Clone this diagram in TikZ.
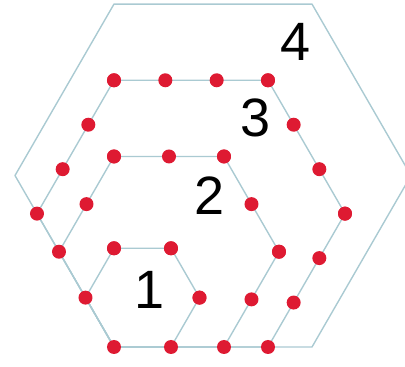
\documentclass[tikz,border=0pt]{standalone}
\usepackage{fontspec}
\setmainfont{Liberation Sans}
\usetikzlibrary{calc}
\definecolor{edgeblue}{RGB}{170,202,210}
\definecolor{dotred}{RGB}{222,26,50}

\begin{document}
\begin{tikzpicture}[x=1pt,y=1pt,
  hexline/.style={draw=edgeblue,line width=1.4pt,line join=round},
  vertexdot/.style={fill=dotred},
  numlabel/.style={font=\fontsize{54}{54}\selectfont,inner sep=0pt}]
\useasboundingbox (-114,-20) rectangle (291,347);
\clip (-114,-20) rectangle (291,347);
% hexagons, all sharing the lower left corner
\foreach \s in {57,110,154,198}
  \draw[hexline] (0,0) -- (\s,0) -- (1.5*\s,0.866*\s) -- (\s,1.732*\s) -- (0,1.732*\s) -- (-0.5*\s,0.866*\s) -- cycle;
% dots on the three inner hexagons
\fill[vertexdot] (0,0) circle (7);
\foreach \s/\n in {57/1,110/2,154/3} {
  \foreach \k in {0,...,\n} {
    \fill[vertexdot] ({\k/\n*\s},{1.732*\s}) circle (7);
    \fill[vertexdot] ({\s+0.5*\k/\n*\s},{1.732*\s-0.866*\k/\n*\s}) circle (7);
    \fill[vertexdot] ({1.5*\s-0.5*\k/\n*\s},{0.866*\s-0.866*\k/\n*\s}) circle (7);
    \fill[vertexdot] ({-0.5*\s+0.5*\k/\n*\s},{0.866*\s+0.866*\k/\n*\s}) circle (7);
  }
}
% numbers
\node[numlabel] (lab1) at (36,57) {1};
\node[numlabel] (lab2) at (96,151) {2};
\node[numlabel] (lab3) at (142,229) {3};
\node[numlabel] (lab4) at (182,305) {4};
\end{tikzpicture}
\end{document}
